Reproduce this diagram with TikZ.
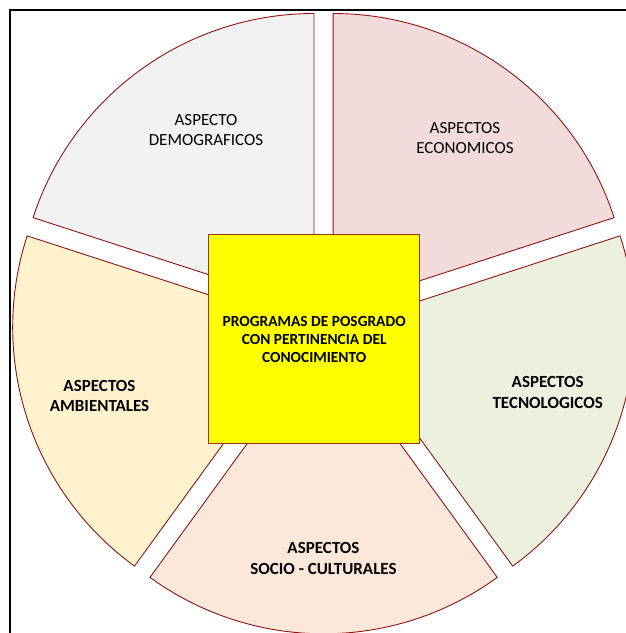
\documentclass[tikz,border=0pt]{standalone}
\usepackage{fontspec}
\setmainfont{Carlito}
\usetikzlibrary{calc}
\definecolor{sectline}{RGB}{140,22,22}
\definecolor{sqline}{RGB}{150,52,30}
\definecolor{cDemo}{HTML}{F2F2F2}
\definecolor{cEcon}{HTML}{F2DCDB}
\definecolor{cTec}{HTML}{EBF1DE}
\definecolor{cSocio}{HTML}{FBE8DA}
\definecolor{cAmb}{HTML}{FFF2CC}
\definecolor{cSquare}{HTML}{FFFF00}
\tikzset{
  sector/.style={draw=sectline, line width=0.9pt, line join=miter},
  lbl/.style={align=center, inner sep=0pt, font=\fontsize{17}{20.5}\selectfont, text=black},
  lblb/.style={lbl, font=\fontsize{17}{20.5}\selectfont\bfseries},
  centerbox/.style={draw=sqline, line width=0.9pt, fill=cSquare, minimum width=211pt, minimum height=209.5pt, inner sep=0pt},
  centertext/.style={align=center, inner sep=0pt, font=\fontsize{15.4}{18}\selectfont\bfseries}
}
\begin{document}
\begin{tikzpicture}[x=1pt,y=1pt]
\useasboundingbox (0,0) rectangle (626,633);
\clip (0,0) rectangle (626,633);
\fill[white] (0,0) rectangle (626,633);
% frame
\draw[line width=2pt, black] (9.5,-20) -- (9.5,622.5) -- (700,622.5);
% pie centre and explode distance
\coordinate (C) at (323.6,310.9);
\def\R{295.4}
\def\D{16.3}
% sectors
\coordinate (pEcon) at ($(C)+(54:\D)$);
\coordinate (pTec) at ($(C)+(-18:\D)$);
\coordinate (pSocio) at ($(C)+(-90:\D)$);
\coordinate (pAmb) at ($(C)+(198:\D)$);
\coordinate (pDemo) at ($(C)+(126:\D)$);
\filldraw[sector, fill=cEcon] (pEcon) -- ++(18:\R) arc[start angle=18, end angle=90, radius=\R] -- cycle;
\filldraw[sector, fill=cTec] (pTec) -- ++(-54:\R) arc[start angle=-54, end angle=18, radius=\R] -- cycle;
\filldraw[sector, fill=cSocio] (pSocio) -- ++(-126:\R) arc[start angle=-126, end angle=-54, radius=\R] -- cycle;
\filldraw[sector, fill=cAmb] (pAmb) -- ++(162:\R) arc[start angle=162, end angle=234, radius=\R] -- cycle;
\filldraw[sector, fill=cDemo] (pDemo) -- ++(90:\R) arc[start angle=90, end angle=162, radius=\R] -- cycle;
% labels
\node[lbl] (demo) at (206,503) {ASPECTO\\DEMOGRAFICOS};
\node[lbl] (econ) at (465,495) {ASPECTOS\\ECONOMICOS};
\node[lblb] (amb) at (99.5,237) {ASPECTOS\\AMBIENTALES};
\node[lblb] (tec) at (547.7,240.5) {ASPECTOS\\TECNOLOGICOS};
\node[lblb] (socio) at (323.5,74.5) {ASPECTOS\\SOCIO - CULTURALES};
% centre square
\node[centerbox] (sq) at (313.5,294.25) {};
\node[centertext] (sqtext) at (314.2,293) {PROGRAMAS DE POSGRADO\\CON PERTINENCIA DEL\\CONOCIMIENTO};
\end{tikzpicture}
\end{document}
